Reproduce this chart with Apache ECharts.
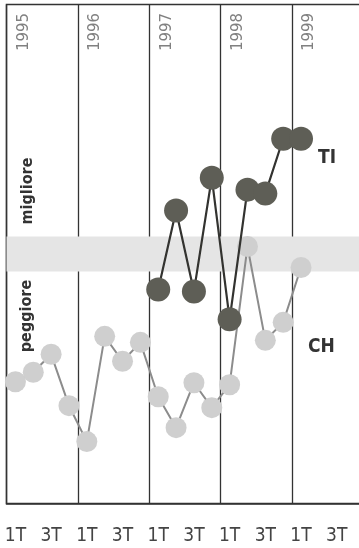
<!DOCTYPE html>
<html><head><meta charset="utf-8">
<script src="https://cdn.jsdelivr.net/npm/echarts@6/dist/echarts.min.js"></script>
<style>html,body{margin:0;padding:0;background:#fff}#c{width:359px;height:548px}</style>
</head><body><div id="c"></div>
<script>
// ---- data ----
const years = ['1995', '1996', '1997', '1998', '1999'];
const quarters = ['1T', '2T', '3T', '4T'];
const chValues = [24.4, 26.3, 29.9, 19.6, 12.4, 33.5, 28.5, 32.3, 21.4, 15.2, 24.2, 19.2, 23.8, 51.5, 32.7, 36.3, 47.3];
const tiValues = [null, null, null, null, null, null, null, null, 42.9, 58.7, 42.5, 65.3, 36.9, 62.9, 62.1, 73.1, 73.1];
const bandRange = [46.5, 53.5];
const zoneLabels = ['migliore', 'peggiore'];
const seriesNames = ['TI', 'CH'];

// ---- build ----
const categories = [];
years.forEach(y => quarters.forEach(q => categories.push(y + '-' + q)));
const FONT = "'Liberation Sans Narrow','DejaVu Sans Condensed','Roboto Condensed','Liberation Sans',sans-serif";

const chart = echarts.init(document.getElementById('c'), null, { renderer: 'canvas' });
const option = {
  animation: false,
  backgroundColor: '#ffffff',
  grid: { left: 6.5, top: 4.5, width: 357, height: 499, outerBoundsMode: 'none', containLabel: false,
    show: true, borderColor: '#333', borderWidth: 1.5, backgroundColor: 'transparent' },
  xAxis: {
    type: 'category', data: categories, boundaryGap: true,
    axisLine: { show: true, lineStyle: { color: '#333', width: 1.5 } },
    axisTick: { show: false },
    axisLabel: { interval: 1, margin: 23, fontFamily: FONT, fontSize: 19, color: '#444',
      formatter: v => v.split('-')[1] },
    splitLine: { show: true, interval: 3, lineStyle: { color: '#333', width: 1.3 } }
  },
  yAxis: { type: 'value', min: 0, max: 100, show: false },
  graphic: [
    { type: 'text', x: 27.5, y: 191, rotation: Math.PI / 2,
      style: { text: zoneLabels[0], align: 'center', verticalAlign: 'middle', fill: '#333',
        font: "bold 16px 'Liberation Sans Narrow','DejaVu Sans Condensed',sans-serif" } },
    { type: 'text', x: 26.5, y: 316, rotation: Math.PI / 2,
      style: { text: zoneLabels[1], align: 'center', verticalAlign: 'middle', fill: '#333',
        font: "bold 16px 'Liberation Sans Narrow','DejaVu Sans Condensed',sans-serif" } }
  ],
  series: [
    {
      name: seriesNames[1], type: 'line', data: chValues, z: 2,
      symbol: 'circle', symbolSize: 21, showAllSymbol: true,
      lineStyle: { color: '#8c8c8c', width: 2 },
      itemStyle: { color: '#cfcfcf' },
      endLabel: { show: true, formatter: seriesNames[1], fontFamily: FONT, fontWeight: 'bold', fontSize: 19, color: '#333', offset: [-1, 80] },
      markArea: { silent: true, itemStyle: { color: '#e5e5e5' },
        data: [[{ yAxis: bandRange[0] }, { yAxis: bandRange[1] }]] }
    },
    {
      name: seriesNames[0], type: 'line', data: tiValues, z: 3,
      symbol: 'circle', symbolSize: 24, showAllSymbol: true,
      lineStyle: { color: '#333330', width: 2.2 },
      itemStyle: { color: '#5e5e56' },
      endLabel: { show: true, formatter: seriesNames[0], fontFamily: FONT, fontWeight: 'bold', fontSize: 19, color: '#333', offset: [9, 19] }
    },
    {
      type: 'scatter', symbolSize: 0, z: 4, silent: true,
      data: years.map((y, i) => [categories[i * 4], 94.5]),
      label: { show: true, position: 'inside', rotate: 90, offset: [0, 8],
        formatter: p => years[p.dataIndex], fontFamily: FONT, fontSize: 16.5, color: '#606060' }
    }
  ]
};
chart.setOption(option);
</script></body></html>
